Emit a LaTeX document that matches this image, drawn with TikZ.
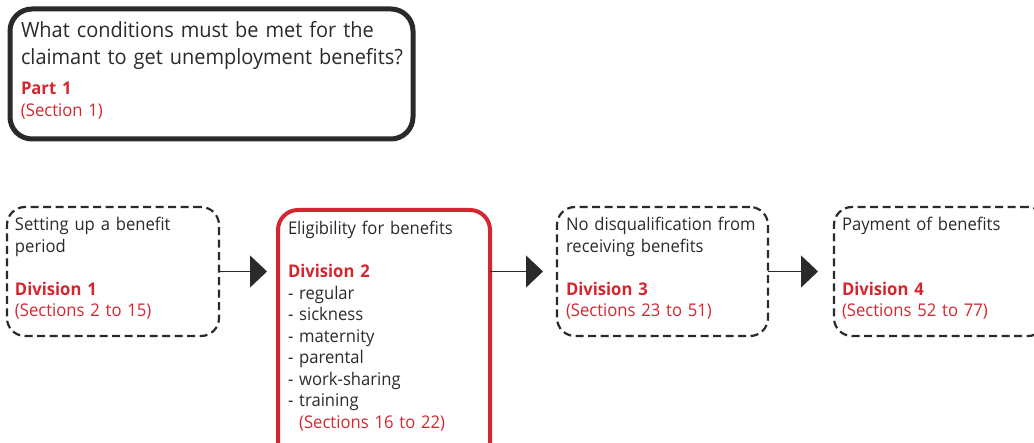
\documentclass[tikz,border=0pt]{standalone}
\usepackage{fontspec}
\setmainfont{Open Sans}[FakeStretch=0.95]
\usetikzlibrary{arrows.meta,positioning}

\definecolor{actred}{HTML}{D4262F}
\definecolor{ink}{HTML}{2B2A2A}

\newcommand{\divname}[1]{{\color{actred}\bfseries #1}}
\newcommand{\secref}[1]{{\color{actred}#1}}

\begin{document}
\begin{tikzpicture}[x=1pt, y=-1pt,
		every node/.style={outer sep=0pt},
		frame/.style={inner sep=0pt, anchor=north west},
		partbox/.style={frame, draw=ink, line width=5pt, rounded corners=22pt},
		divbox/.style={frame, draw=ink, line width=2.2pt, dash pattern=on 8pt off 4.5pt,
			rounded corners=18pt, minimum width=212pt, minimum height=129pt},
		activebox/.style={frame, draw=actred, line width=4pt, rounded corners=20pt,
			minimum width=212pt, minimum height=260pt},
		txt/.style={anchor=base west, inner sep=0pt, align=left, text width=205pt, text=ink,
			font=\fontsize{17.5}{21.5}\selectfont},
		flow/.style={draw=ink, line width=1.2pt, -{Triangle[length=17pt,width=32pt]}}]
	\useasboundingbox (0,0) rectangle (1034,443);
	\clip (0,0) rectangle (1034,443);

	% Part 1
	\node[partbox, minimum width=403pt, minimum height=130pt] (part) at (10,9) {};
	\node[txt, text width=420pt, font=\fontsize{21}{27}\selectfont] (question)
		at ([shift={(11,29)}]part.north west)
		{What conditions must be met for the\\claimant to get unemployment benefits?};
	\node[txt] (partref) at ([shift={(0,57)}]question.base west)
		{\divname{Part 1}\\\secref{(Section 1)}};

	% divisions
	\node[divbox] (div1) at (7,207) {};
	\node[activebox] (div2) at (278,210) {};
	\node[divbox, minimum width=211pt] (div3) at (557,207) {};
	\node[divbox] (div4) at (834,207) {};

	\node[txt] (div1txt) at ([shift={(8,24)}]div1.north west)
		{Setting up a benefit\\period\\[21.5pt]\divname{Division 1}\\\secref{(Sections 2 to 15)}};
	\node[txt] (div2txt) at ([shift={(10,25)}]div2.north west)
		{Eligibility for benefits\\[21.5pt]\divname{Division 2}\\- regular\\- sickness\\- maternity\\
		- parental\\- work-sharing\\- training\\\phantom{-\ }\secref{(Sections 16 to 22)}};
	\node[txt] (div3txt) at ([shift={(9,24)}]div3.north west)
		{No disqualification from\\receiving benefits\\[21.5pt]\divname{Division 3}\\\secref{(Sections 23 to 51)}};
	\node[txt] (div4txt) at ([shift={(8,24)}]div4.north west)
		{Payment of benefits\\[43pt]\divname{Division 4}\\\secref{(Sections 52 to 77)}};

	\draw[flow, shorten >=11pt] (div1.east) -- (div2.west |- div1.east);
	\draw[flow, shorten >=14pt] (div2.east |- div1.east) -- (div3.west);
	\draw[flow, shorten >=16pt] (div3.east) -- (div4.west);
\end{tikzpicture}
\end{document}
